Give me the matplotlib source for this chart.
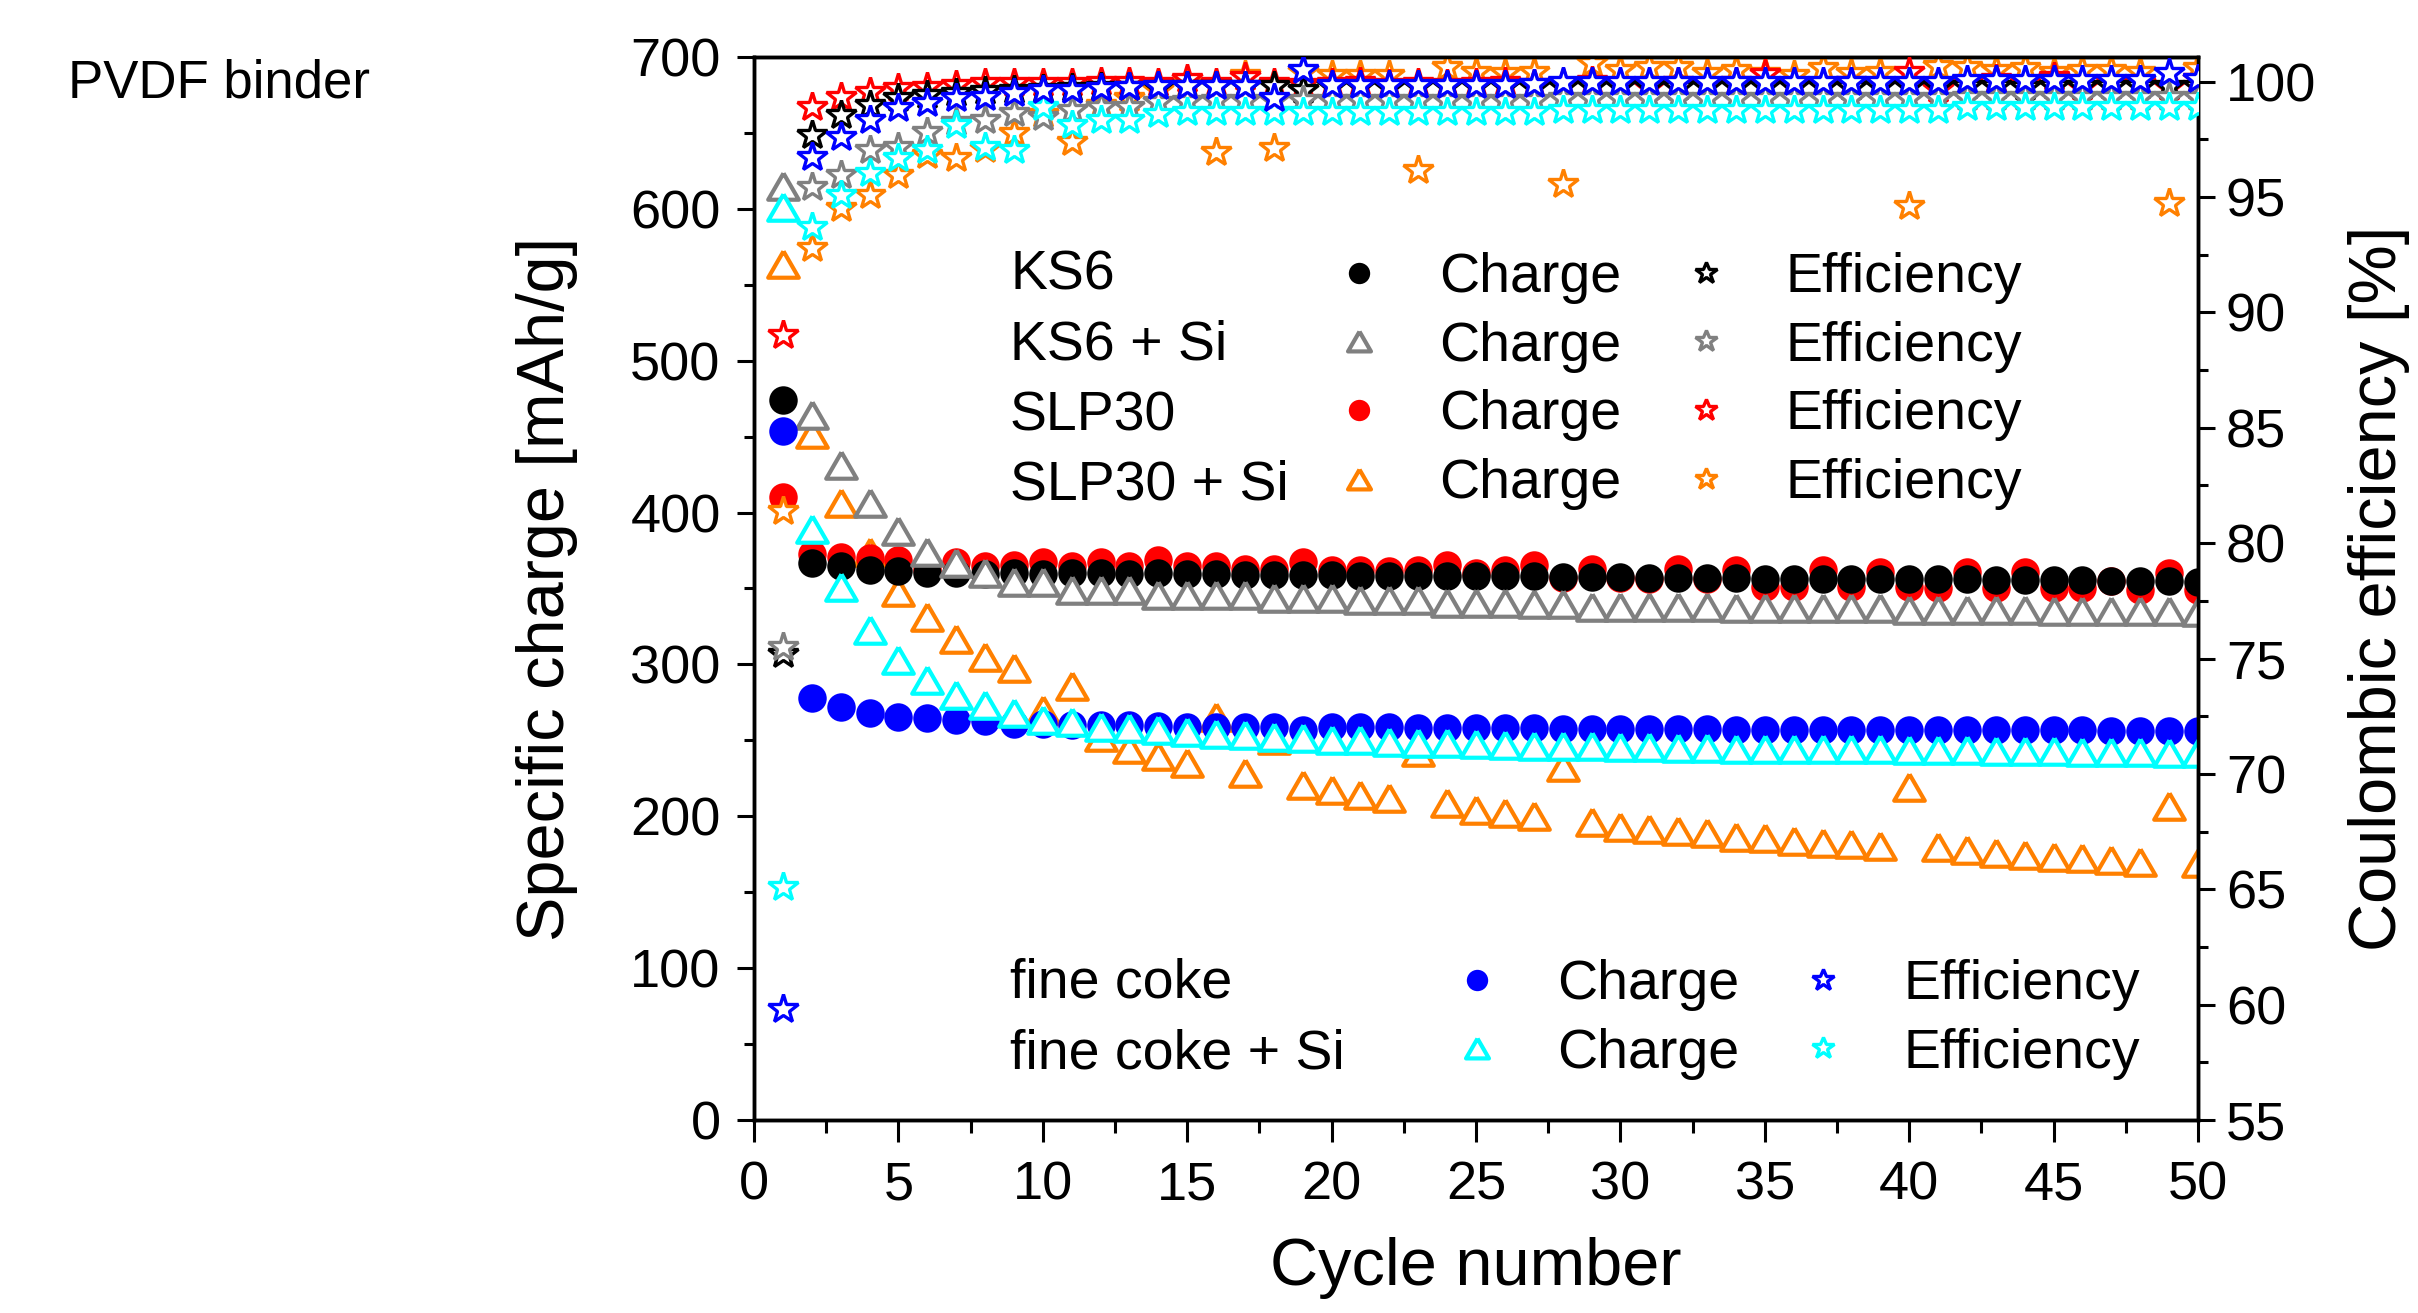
import matplotlib
matplotlib.use('Agg')
import matplotlib.pyplot as plt
from matplotlib.ticker import MultipleLocator
from matplotlib.lines import Line2D

plt.rcParams['font.family'] = ['Liberation Sans', 'DejaVu Sans']

cycles = list(range(1, 51))

# Specific charge [mAh/g]
ks6_charge = [474, 367, 364.5, 362.5, 361.5, 360.5, 360, 359.5, 360, 359.5,
              360, 360, 359.5, 360, 359.5, 359.5, 359, 359, 359, 359,
              358.5, 358.5, 358.5, 358.5, 358, 358, 358, 357.5, 357.5, 357.5,
              357, 357, 357, 357, 356.5, 356.5, 356.5, 356.5, 356, 356,
              356, 356, 355.5, 355.5, 355.5, 355.5, 355, 355, 355, 354.5]
ks6si_charge = [615, 464, 431, 406, 388, 374, 366.5, 360, 354.5, 354.5,
                349, 349, 349, 346, 346, 345.5, 345.5, 344, 344, 343.5,
                342.5, 342.5, 342.5, 340.5, 340.5, 340.5, 340, 339.5, 338, 338,
                338, 338, 338, 337, 337, 337, 337, 337, 337, 336,
                336, 336, 336, 336, 335, 335, 335, 335, 335, 334.5]
slp30_charge = [410, 373, 371, 370, 369, 363, 367.5, 364.5, 365.5, 367.5,
                364.5, 367.5, 364.5, 368.5, 364.5, 364.5, 363, 363, 367.5, 362,
                362, 361.5, 362, 365.5, 360, 362, 365.5, 357, 363, 357,
                356, 363, 356, 362, 351, 351, 362, 351, 361, 351,
                350, 361, 350, 361, 350, 350, 355, 349, 360, 349]
slp30si_charge = [564, 452, 406, 374, 348, 331, 317, 305, 297.5, 270,
                  285.5, 252.5, 244, 240, 235, 265.5, 228.5, 250, 220.5, 217,
                  214, 212, 242.5, 208.5, 204, 202, 200, 232.5, 196.5, 193,
                  191.5, 190, 189, 186.5, 185.5, 184, 182.5, 181.5, 180.5, 219.5,
                  180, 178, 176, 174.5, 173.5, 172.5, 171, 170, 206.5, 169]
finecoke_charge = [454, 278, 272, 268, 265.5, 264.5, 263.5, 262.5, 261, 260.5,
                   260, 260, 260, 259.5, 259, 259, 259, 258.5, 257, 258.5,
                   258.5, 258.5, 258, 258, 258, 258, 258, 257.5, 257.5, 257.5,
                   257.5, 257.5, 257.5, 257, 257, 257, 257, 257, 257, 257,
                   256.5, 256.5, 256.5, 256.5, 256.5, 256.5, 256, 256, 256, 256]
finecokesi_charge = [601, 389.5, 351, 323, 303, 290, 280, 273.5, 268, 263.5,
                     262, 259, 258, 257, 255.5, 254.5, 253.5, 252.5, 251.5, 250.5,
                     250, 249, 248.5, 248, 247.5, 247, 246.5, 246, 246, 245.5,
                     245.5, 245, 245, 244.5, 244.5, 244.5, 244, 244, 244, 243.5,
                     243.5, 243.5, 243, 243, 243, 242.5, 242.5, 242.5, 242, 242]

# Coulombic efficiency [%]
ks6_eff = [75.2, 97.7, 98.55, 99.0, 99.28, 99.43, 99.5, 99.6, 99.65, 99.7,
           99.72, 99.75, 99.75, 99.78, 99.8, 99.8, 99.8, 99.8, 99.65, 99.8,
           99.8, 99.78, 99.8, 99.82, 99.8, 99.8, 99.78, 99.8, 99.82, 99.8,
           99.8, 99.78, 99.8, 99.8, 99.82, 99.8, 99.8, 99.78, 99.8, 99.8,
           99.82, 99.8, 99.8, 99.78, 99.8, 99.8, 99.82, 99.8, 99.8, 99.8]
ks6si_eff = [75.5, 95.45, 95.96, 97.04, 97.19, 97.84, 98.27, 98.34, 98.63, 98.49,
             98.78, 98.92, 98.92, 99.1, 99.15, 99.2, 99.2, 99.2, 99.2, 99.2,
             99.2, 99.2, 99.2, 99.2, 99.2, 99.2, 99.2, 99.28, 99.28, 99.28,
             99.28, 99.28, 99.28, 99.28, 99.28, 99.28, 99.28, 99.28, 99.28, 99.28,
             99.28, 99.35, 99.35, 99.35, 99.35, 99.35, 99.35, 99.35, 99.35, 99.35]
slp30_eff = [89.0, 98.9, 99.35, 99.57, 99.71, 99.79, 99.86, 99.93, 99.93, 99.95,
             99.95, 99.97, 100.0, 99.95, 100.1, 99.95, 100.2, 99.95, 99.9, 99.95,
             100.0, 99.9, 99.95, 99.9, 99.95, 100.0, 99.9, 99.95, 100.05, 99.9,
             99.75, 100.0, 99.9, 100.0, 100.35, 99.95, 99.9, 100.0, 99.95, 100.4,
             99.7, 99.95, 100.1, 99.9, 100.2, 99.75, 100.0, 99.95, 99.75, 100.1]
slp30si_eff = [81.4, 92.78, 94.51, 95.09, 95.96, 96.83, 96.68, 97.1, 97.77, 98.6,
               97.4, 99.0, 99.3, 99.64, 99.9, 96.97, 100.3, 97.11, 100.4, 100.3,
               100.3, 100.3, 96.17, 100.65, 100.44, 100.37, 100.44, 95.55, 100.8, 100.5,
               100.65, 100.65, 100.37, 100.5, 100.37, 100.3, 100.6, 100.37, 100.44, 94.6,
               100.7, 100.65, 100.5, 100.6, 100.4, 100.5, 100.5, 100.4, 94.73, 100.6]
finecoke_eff = [59.8, 96.75, 97.62, 98.34, 98.85, 99.06, 99.28, 99.35, 99.5, 99.64,
                99.64, 99.71, 99.79, 99.8, 99.8, 99.8, 99.8, 99.28, 100.51, 99.86,
                99.86, 99.86, 99.86, 99.86, 99.86, 99.86, 99.9, 100.0, 100.0, 100.0,
                100.0, 100.0, 100.0, 100.0, 100.0, 100.0, 100.0, 100.0, 100.0, 100.0,
                100.0, 100.08, 100.08, 100.08, 100.08, 100.08, 100.08, 100.08, 100.37, 100.1]
finecokesi_eff = [65.1, 93.72, 95.09, 96.03, 96.68, 97.04, 98.12, 97.19, 97.04, 98.92,
                  98.12, 98.34, 98.34, 98.6, 98.7, 98.7, 98.7, 98.7, 98.7, 98.7,
                  98.7, 98.7, 98.7, 98.7, 98.7, 98.7, 98.7, 98.78, 98.78, 98.78,
                  98.78, 98.78, 98.78, 98.78, 98.78, 98.78, 98.78, 98.78, 98.78, 98.78,
                  98.78, 98.9, 98.9, 98.9, 98.9, 98.9, 98.9, 98.9, 98.9, 98.9]

material_names = ['KS6', 'KS6 + Si', 'SLP30', 'SLP30 + Si']
material_names2 = ['fine coke', 'fine coke + Si']
x_ticks = [0, 5, 10, 15, 20, 25, 30, 35, 40, 45, 50]
left_ticks = [0, 100, 200, 300, 400, 500, 600, 700]
right_ticks = [55, 60, 65, 70, 75, 80, 85, 90, 95, 100]

BLACK = '#000000'
GRAY = '#808080'
RED = '#FF0000'
ORANGE = '#FF8000'
BLUE = '#0000FF'
CYAN = '#00FFFF'

TRI = [(0, 0.866), (-1, -0.866), (1, -0.866), (0, 0.866)]

fig = plt.figure(figsize=(24.18, 13.13), dpi=100)
ax = fig.add_axes([0.31183, 0.14699, 0.59719, 0.80960])
ax2 = ax.twinx()

MS_C = 20.5
MS_T = 22
MS_S = 22
MEW_T = 3.0
MEW_S = 2.4

circle_kw = dict(ls='none', marker='o', ms=MS_C, mew=0)
tri_kw = dict(ls='none', marker=TRI, ms=MS_T, mew=MEW_T, mfc='white')
star_kw = dict(ls='none', marker='*', ms=MS_S, mew=MEW_S, mfc='white')

# charge (left axis)
ax.plot(cycles, slp30si_charge, color=ORANGE, zorder=2, **tri_kw)
ax.plot(cycles, slp30_charge, color=RED, zorder=3, **circle_kw)
ax.plot(cycles, ks6_charge, color=BLACK, zorder=4, **circle_kw)
ax.plot(cycles, ks6si_charge, color=GRAY, zorder=5, **tri_kw)
ax.plot(cycles, finecoke_charge, color=BLUE, zorder=6, **circle_kw)
ax.plot(cycles, finecokesi_charge, color=CYAN, zorder=7, **tri_kw)

# efficiency (right axis)
ax2.plot(cycles, slp30si_eff, color=ORANGE, zorder=2, **star_kw)
ax2.plot(cycles, slp30_eff, color=RED, zorder=3, **star_kw)
ax2.plot(cycles, ks6_eff, color=BLACK, zorder=4, **star_kw)
ax2.plot(cycles, ks6si_eff, color=GRAY, zorder=5, **star_kw)
ax2.plot(cycles, finecokesi_eff, color=CYAN, zorder=6, **star_kw)
ax2.plot(cycles, finecoke_eff, color=BLUE, zorder=7, **star_kw)

ax.set_xlim(0, 50)
ax.set_ylim(0, 700)
ax2.set_ylim(55, 101.07)

ax.set_xticks(x_ticks)
ax.set_yticks(left_ticks)
ax2.set_yticks(right_ticks)
ax.xaxis.set_minor_locator(MultipleLocator(2.5))
ax.yaxis.set_minor_locator(MultipleLocator(50))
ax2.yaxis.set_minor_locator(MultipleLocator(2.5))

TICKFS = 39
LW = 2.5
for a in (ax, ax2):
    for s in a.spines.values():
        s.set_linewidth(LW)

ax.tick_params(axis='x', which='both', direction='out', bottom=True, top=False,
               labelsize=TICKFS, width=2.2, pad=13)
ax.tick_params(axis='x', which='major', length=16)
ax.tick_params(axis='x', which='minor', length=9)
ax.tick_params(axis='y', which='both', direction='out', labelsize=TICKFS, width=2.2, pad=12)
ax.tick_params(axis='y', which='major', length=12)
ax.tick_params(axis='y', which='minor', length=7)

ax2.tick_params(axis='x', which='both', direction='in', top=True, bottom=False,
                labeltop=False, labelbottom=False, width=2.2)
ax2.tick_params(axis='x', which='major', length=16)
ax2.tick_params(axis='x', which='minor', length=9)
ax2.tick_params(axis='y', which='both', direction='out', labelsize=TICKFS, width=2.2, pad=8)
ax2.tick_params(axis='y', which='major', length=12)
ax2.tick_params(axis='y', which='minor', length=7)

LABELFS = 48
ax.set_xlabel('Cycle number', fontsize=LABELFS)
ax.set_ylabel('Specific charge [mAh/g]', fontsize=LABELFS)
ax2.set_ylabel('Coulombic efficiency [%]', fontsize=LABELFS)
ax.xaxis.set_label_coords(0.5, -0.110)
ax.yaxis.set_label_coords(-0.122, 0.5)
ax2.yaxis.set_label_coords(1.104, 0.5)

# legends
LEGFS = 40
def hc(color):
    return Line2D([], [], color=color, **circle_kw)
def ht(color):
    return Line2D([], [], color=color, **tri_kw)
def hs(color):
    return Line2D([], [], color=color, **star_kw)

top_handles = [hc(BLACK), ht(GRAY), hc(RED), ht(ORANGE),
               hs(BLACK), hs(GRAY), hs(RED), hs(ORANGE)]
top_labels = ['Charge'] * 4 + ['Efficiency'] * 4
leg_kw = dict(ncol=2, fontsize=LEGFS, frameon=False, borderpad=0, borderaxespad=0,
              handlelength=1.0, handletextpad=0.94, columnspacing=1.02,
              labelspacing=0.3, markerscale=0.75, numpoints=1, loc='center left')
leg1 = ax2.legend(top_handles, top_labels, bbox_to_anchor=(0.3997, 0.6952), **leg_kw)
ax2.add_artist(leg1)
bot_handles = [hc(BLUE), ht(CYAN), hs(BLUE), hs(CYAN)]
bot_labels = ['Charge'] * 2 + ['Efficiency'] * 2
leg2 = ax2.legend(bot_handles, bot_labels, bbox_to_anchor=(0.4814, 0.0946), **leg_kw)

name_y = [0.7940, 0.7288, 0.6620, 0.5968]
for nm, yy in zip(material_names, name_y):
    ax2.text(0.1773, yy, nm, transform=ax2.transAxes, fontsize=LEGFS, va='center', ha='left')
name_y2 = [0.1282, 0.0615]
for nm, yy in zip(material_names2, name_y2):
    ax2.text(0.1773, yy, nm, transform=ax2.transAxes, fontsize=LEGFS, va='center', ha='left')

fig.text(0.0281, 0.9254, 'PVDF binder', fontsize=38, va='baseline', ha='left')

fig.savefig('out.png', dpi=100)
